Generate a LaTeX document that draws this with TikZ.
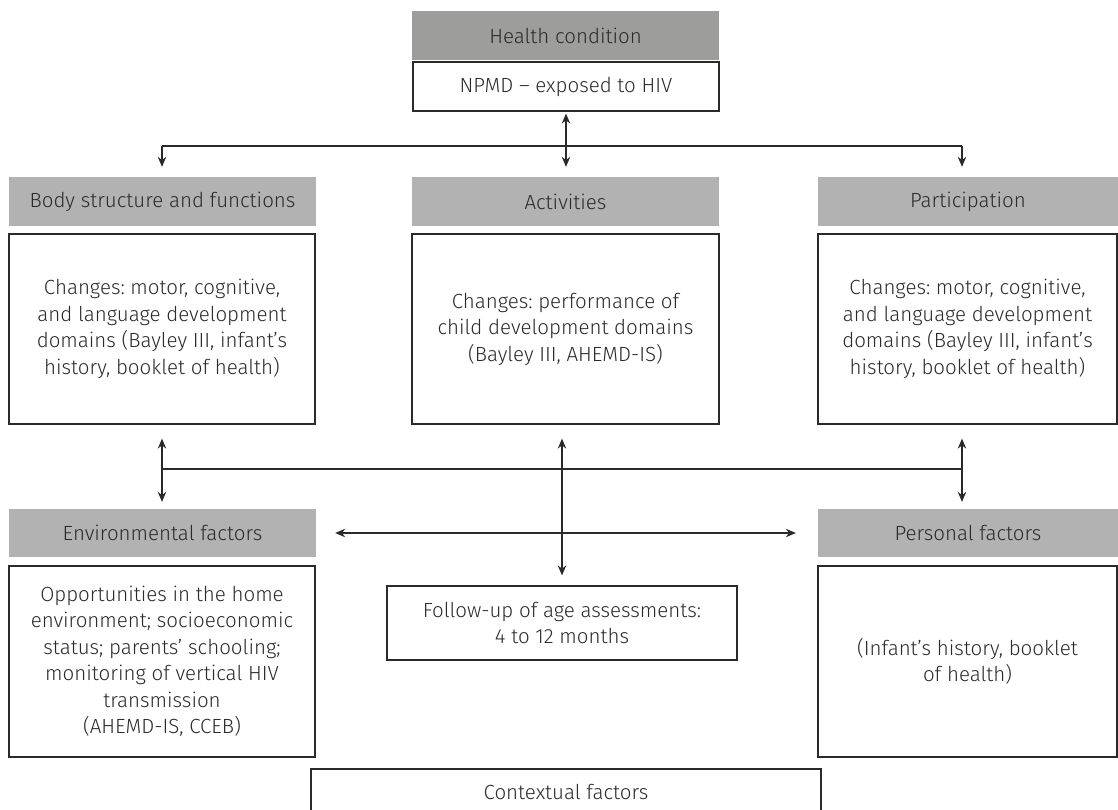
\documentclass[tikz,border=0pt]{standalone}
\usepackage{fontspec}
\setmainfont{Fira Sans Light}
\usetikzlibrary{arrows.meta}
\definecolor{txt}{HTML}{2B2B2B}
\definecolor{edge}{HTML}{2A2A2A}
\definecolor{headdark}{HTML}{9D9D9C}
\definecolor{headlight}{HTML}{B2B2B2}
\tikzset{
  labelfont/.style={font=\fontsize{20.5}{26.5}\selectfont\frenchspacing},
  head/.style={fill=headlight, draw=none, minimum height=49pt, inner sep=0pt,
    text=txt, labelfont},
  headtop/.style={head, fill=headdark},
  textbox/.style={draw=edge, line width=1.2pt, fill=white, inner sep=0pt,
    align=center, text=txt, labelfont},
  link/.style={draw=edge, line width=1.2pt},
  tip/.style={},
  arr/.style={link, -{Stealth[length=10pt,width=8.5pt]}},
  darr/.style={link, {Stealth[length=10pt,width=8.5pt]}-{Stealth[length=10pt,width=8.5pt]}}
}
\begin{document}
\begin{tikzpicture}[x=1pt,y=-1pt]
\useasboundingbox (0,0) rectangle (1118,809);
\begin{scope}
\clip (0,0) rectangle (1118,809);

% health condition
\node[headtop, minimum width=307pt] (hc) at (565.5,35.5) {Health condition};
\node[textbox, minimum width=306pt, minimum height=49pt] (npmd) at (566,86.5) {NPMD -- exposed to HIV};

% upper row: headers and descriptions
\node[head, minimum width=307pt] (body) at (162.5,201.5) {Body structure and functions};
\node[textbox, minimum width=306pt, minimum height=190pt] (bodyT) at (162,329)
  {Changes: motor, cognitive,\\and language development\\domains (Bayley III, infant’s\\history, booklet of health)};

\node[head, minimum width=307pt] (act) at (565.5,201.5) {Activities};
\node[textbox, minimum width=307pt, minimum height=190pt] (actT) at (565.5,329)
  {Changes: performance of\\child development domains\\(Bayley III, AHEMD-IS)};

\node[head, minimum width=300pt] (part) at (968,201.5) {Participation};
\node[textbox, minimum width=299pt, minimum height=190pt] (partT) at (967.5,329)
  {Changes: motor, cognitive,\\and language development\\domains (Bayley III, infant’s\\history, booklet of health)};

% lower row
\node[head, minimum width=307pt, minimum height=48pt] (env) at (162.5,533) {Environmental factors};
\node[textbox, minimum width=306pt, minimum height=191pt] (envT) at (162,661.5)
  {Opportunities in the home\\environment; socioeconomic\\status; parents’ schooling;\\monitoring of vertical HIV\\transmission\\(AHEMD-IS, CCEB)};

\node[head, minimum width=300pt, minimum height=48pt] (pers) at (968,533) {Personal factors};
\node[textbox, minimum width=299pt, minimum height=191pt] (persT) at (967.5,661.5)
  {(Infant’s history, booklet\\of health)};

\node[textbox, minimum width=350pt, minimum height=74pt] (fol) at (562,623)
  {Follow-up of age assessments:\\4 to 12 months};

\node[textbox, minimum width=510pt, minimum height=46pt] (ctx) at (566,792) {Contextual factors};

% bus junctions
\coordinate (tl) at (162,146);
\coordinate (tr) at (962,146);
\coordinate (ml) at (162,469);
\coordinate (mr) at (962,469);

% top distribution
\draw[link] (tl) -- (tr);
\draw[arr, shorten >=10pt] (tl) -- (body.north -| tl);
\draw[arr, shorten >=10pt] (tr) -- (part.north -| tr);
\draw[darr, shorten <=2pt, shorten >=10pt] (npmd.south) -- (npmd.south |- act.north);

% middle distribution
\draw[link] (ml) -- (mr);
\draw[darr, shorten <=14pt, shorten >=7pt] (bodyT.south -| ml) -- (env.north -| ml);
\draw[darr, shorten <=14pt, shorten >=7pt] (partT.south -| mr) -- (pers.north -| mr);
\draw[darr, shorten <=14pt, shorten >=10pt] (actT.south -| fol.north) -- (fol.north);
\draw[darr, shorten <=19pt, shorten >=22pt] (env.east) -- (pers.west);
\end{scope}
\end{tikzpicture}
\end{document}
